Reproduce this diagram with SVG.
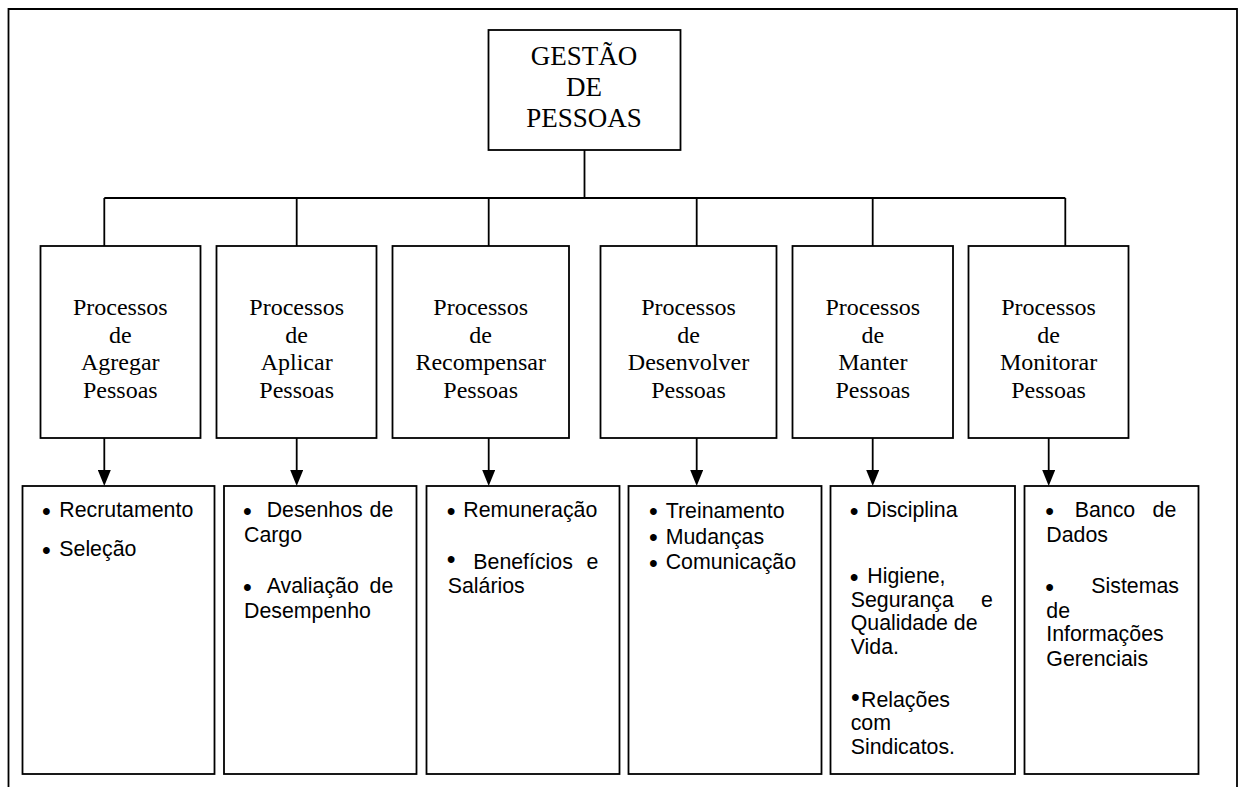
<svg xmlns="http://www.w3.org/2000/svg" width="1238" height="787" viewBox="0 0 1238 787">
<style>
.box{fill:#fff;stroke:#000;stroke-width:1.8}
.ln{fill:none;stroke:#000;stroke-width:1.8}
.ser{font-family:"Liberation Serif","Times New Roman",serif;fill:#000;text-anchor:middle}
.t1{font-size:27px}
.t2{font-size:24px}
.san{font-family:"Liberation Sans",Arial,sans-serif;font-size:21.33px;fill:#000}
.b{font-size:25px}
</style>
<defs>
<marker id="ah" viewBox="0 0 16 13" refX="10" refY="6.5" markerWidth="16" markerHeight="13" markerUnits="userSpaceOnUse" orient="auto">
<path d="M0,0 L16,6.5 L0,13 z" fill="#000"/>
</marker>
</defs>
<rect width="1238" height="787" fill="#fff"/>
<path class="ln" d="M8.5,787 V9 H1237 V787"/>
<g id="connectors">
<path class="ln" d="M584.5,150 V198 M104.3,198 H1065.3 M104.3,198 V246 M296.7,198 V246 M488.7,198 V246 M696.7,198 V246 M872.7,198 V246 M1065.3,198 V246"/>
<path class="ln" marker-end="url(#ah)" d="M104.3,437.7 V480"/>
<path class="ln" marker-end="url(#ah)" d="M296.7,437.7 V480"/>
<path class="ln" marker-end="url(#ah)" d="M488.7,437.7 V480"/>
<path class="ln" marker-end="url(#ah)" d="M696.7,437.7 V480"/>
<path class="ln" marker-end="url(#ah)" d="M872.7,437.7 V480"/>
<path class="ln" marker-end="url(#ah)" d="M1048.7,437.7 V480"/>
</g>
<g id="gestao">
<rect class="box" x="488.5" y="30" width="192" height="120"/>
<text class="ser t1"><tspan x="584" y="65">GESTÃO</tspan><tspan x="584" y="96">DE</tspan><tspan x="584" y="127">PESSOAS</tspan></text>
</g>
<g id="p-agregar">
<rect class="box" x="40.5" y="246" width="160" height="192"/>
<text class="ser t2"><tspan x="120.3" y="315">Processos</tspan><tspan x="120.3" y="342.7">de</tspan><tspan x="120.3" y="370.4">Agregar</tspan><tspan x="120.3" y="398">Pessoas</tspan></text>
</g>
<g id="p-aplicar">
<rect class="box" x="216.5" y="246" width="160" height="192"/>
<text class="ser t2"><tspan x="296.7" y="315">Processos</tspan><tspan x="296.7" y="342.7">de</tspan><tspan x="296.7" y="370.4">Aplicar</tspan><tspan x="296.7" y="398">Pessoas</tspan></text>
</g>
<g id="p-recompensar">
<rect class="box" x="392.5" y="246" width="176.5" height="192"/>
<text class="ser t2"><tspan x="480.7" y="315">Processos</tspan><tspan x="480.7" y="342.7">de</tspan><tspan x="480.7" y="370.4">Recompensar</tspan><tspan x="480.7" y="398">Pessoas</tspan></text>
</g>
<g id="p-desenvolver">
<rect class="box" x="600.5" y="246" width="176" height="192"/>
<text class="ser t2"><tspan x="688.5" y="315">Processos</tspan><tspan x="688.5" y="342.7">de</tspan><tspan x="688.5" y="370.4">Desenvolver</tspan><tspan x="688.5" y="398">Pessoas</tspan></text>
</g>
<g id="p-manter">
<rect class="box" x="792.5" y="246" width="160.5" height="192"/>
<text class="ser t2"><tspan x="872.8" y="315">Processos</tspan><tspan x="872.8" y="342.7">de</tspan><tspan x="872.8" y="370.4">Manter</tspan><tspan x="872.8" y="398">Pessoas</tspan></text>
</g>
<g id="p-monitorar">
<rect class="box" x="968.5" y="246" width="160" height="192"/>
<text class="ser t2"><tspan x="1048.6" y="315">Processos</tspan><tspan x="1048.6" y="342.7">de</tspan><tspan x="1048.6" y="370.4">Monitorar</tspan><tspan x="1048.6" y="398">Pessoas</tspan></text>
</g>
<g id="l-agregar">
<rect class="box" x="22.5" y="486" width="192" height="288"/>
<text class="san"><tspan class="b" x="42" y="520">•</tspan><tspan x="59.3" y="517.3">Recrutamento</tspan><tspan class="b" x="42" y="558.5">•</tspan><tspan x="59.3" y="555.8">Seleção</tspan></text>
</g>
<g id="l-aplicar">
<rect class="box" x="224" y="486" width="192.5" height="288"/>
<text class="san"><tspan class="b" x="243" y="520">•</tspan><tspan x="266.7" y="517.3">Desenhos</tspan><tspan x="369.6" y="517.3">de</tspan><tspan x="244" y="541.7">Cargo</tspan><tspan class="b" x="243" y="596">•</tspan><tspan x="266.7" y="593.3">Avaliação</tspan><tspan x="369.6" y="593.3">de</tspan><tspan x="244" y="617.9">Desempenho</tspan></text>
</g>
<g id="l-recompensar">
<rect class="box" x="426.5" y="486" width="193" height="288"/>
<text class="san"><tspan class="b" x="446.7" y="520">•</tspan><tspan x="463.3" y="517.3">Remuneração</tspan><tspan class="b" x="446.7" y="568">•</tspan><tspan x="473.3" y="569.3">Benefícios</tspan><tspan x="586.4" y="569.3">e</tspan><tspan x="447.7" y="592.7">Salários</tspan></text>
</g>
<g id="l-desenvolver">
<rect class="box" x="628.5" y="486" width="193" height="288"/>
<text class="san"><tspan class="b" x="649" y="520.2">•</tspan><tspan x="665.7" y="517.5">Treinamento</tspan><tspan class="b" x="649" y="546.2">•</tspan><tspan x="665.7" y="543.5">Mudanças</tspan><tspan class="b" x="649" y="571.7">•</tspan><tspan x="665.7" y="569">Comunicação</tspan></text>
</g>
<g id="l-manter">
<rect class="box" x="830.5" y="486" width="184.5" height="288"/>
<text class="san"><tspan class="b" x="849.7" y="520">•</tspan><tspan x="866.3" y="517.3">Disciplina</tspan><tspan class="b" x="849.7" y="585.7">•</tspan><tspan x="867.3" y="583">Higiene,</tspan><tspan x="850.7" y="606.8">Segurança</tspan><tspan x="981.1" y="606.8">e</tspan><tspan x="850.7" y="630.3">Qualidade de</tspan><tspan x="850.7" y="653.8">Vida.</tspan><tspan class="b" x="851" y="705.5">•</tspan><tspan x="861" y="706.8">Relações</tspan><tspan x="850.7" y="730.3">com</tspan><tspan x="850.7" y="753.8">Sindicatos.</tspan></text>
</g>
<g id="l-monitorar">
<rect class="box" x="1024.5" y="486" width="174" height="288"/>
<text class="san"><tspan class="b" x="1045.3" y="520">•</tspan><tspan x="1074.7" y="517.3">Banco</tspan><tspan x="1152.6" y="517.3">de</tspan><tspan x="1046.3" y="541.7">Dados</tspan><tspan class="b" x="1045.3" y="596">•</tspan><tspan x="1091.3" y="593.3">Sistemas</tspan><tspan x="1046.3" y="617.7">de</tspan><tspan x="1046.3" y="641.2">Informações</tspan><tspan x="1046.3" y="665.8">Gerenciais</tspan></text>
</g>
</svg>
